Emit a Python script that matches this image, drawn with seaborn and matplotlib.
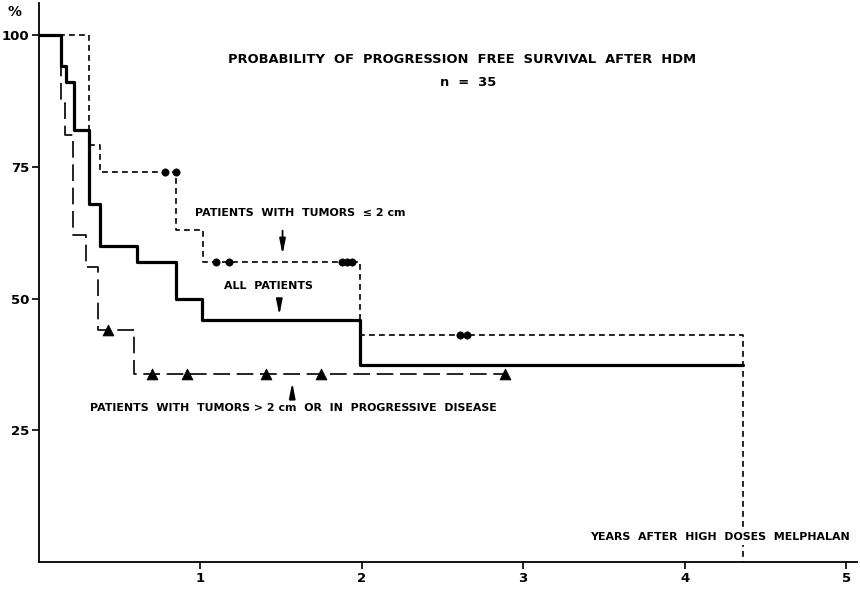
import numpy as np
import pandas as pd
import matplotlib
matplotlib.use("Agg")
import matplotlib.pyplot as plt
import seaborn as sns

# ---- data ----
all_t = [0, 0.14, 0.17, 0.22, 0.31, 0.38, 0.61, 0.85, 1.01, 1.99, 4.36]
all_s = [100, 94, 91, 82, 68, 60, 57, 50, 46, 37.4, 37.4]

small_t = [0, 0.31, 0.38, 0.85, 1.02, 1.99, 4.36]
small_s = [100, 79, 74, 63, 57, 43, 0]
small_cens_t = [0.78, 0.85, 1.10, 1.18, 1.88, 1.91, 1.94, 2.61, 2.65]
small_cens_s = [74, 74, 57, 57, 57, 57, 57, 43, 43]

large_t = [0, 0.14, 0.16, 0.21, 0.29, 0.37, 0.59, 2.89]
large_s = [100, 87, 81, 62, 56, 44, 35.7, 35.7]
large_cens_t = [0.43, 0.70, 0.92, 1.41, 1.75, 2.89]
large_cens_s = [44, 35.7, 35.7, 35.7, 35.7, 35.7]

x_ticks = [1, 2, 3, 4, 5]
y_ticks = [25, 50, 75, 100]

title = "PROBABILITY  OF  PROGRESSION  FREE  SURVIVAL  AFTER  HDM"
subtitle = "n  =  35"
lab_small = "PATIENTS  WITH  TUMORS  ≤ 2 cm"
lab_all = "ALL  PATIENTS"
lab_large = "PATIENTS  WITH  TUMORS > 2 cm  OR  IN  PROGRESSIVE  DISEASE"
x_label = "YEARS  AFTER  HIGH  DOSES  MELPHALAN"

# ---- figure ----
sns.set_style("ticks")
plt.rcParams['font.family'] = ['DejaVu Sans']
plt.rcParams['font.weight'] = 'bold'
plt.rcParams['text.color'] = 'black'
plt.rcParams['xtick.color'] = 'black'
plt.rcParams['ytick.color'] = 'black'

fig = plt.figure(figsize=(8.6, 5.97), dpi=100)
ax = fig.add_axes([0.045, 0.058, 0.952, 0.937])

df_all = pd.DataFrame({"t": all_t, "s": all_s})
df_small = pd.DataFrame({"t": small_t, "s": small_s})
df_large = pd.DataFrame({"t": large_t, "s": large_s})

sns.lineplot(data=df_all, x="t", y="s", ax=ax, color="black", lw=2.3,
             drawstyle="steps-post", estimator=None, sort=False)
sns.lineplot(data=df_small, x="t", y="s", ax=ax, color="black", lw=1.2,
             drawstyle="steps-post", estimator=None, sort=False,
             linestyle=(0, (3.5, 2.5)))
sns.lineplot(data=df_large, x="t", y="s", ax=ax, color="black", lw=1.2,
             drawstyle="steps-post", estimator=None, sort=False,
             linestyle=(0, (10, 4)))

sns.scatterplot(x=small_cens_t, y=small_cens_s, ax=ax, color="black",
                marker="o", s=28, edgecolor="black", zorder=5)
sns.scatterplot(x=large_cens_t, y=large_cens_s, ax=ax, color="black",
                marker="^", s=60, edgecolor="black", zorder=5)

ax.set_xlim(0, 5.07)
ax.set_ylim(0, 106)
ax.set_xticks(x_ticks)
ax.set_yticks(y_ticks)
ax.set_xticklabels([str(v) for v in x_ticks], fontsize=9.5, fontweight="bold")
ax.set_yticklabels([str(v) for v in y_ticks], fontsize=9.5, fontweight="bold")
ax.tick_params(axis="both", direction="out", length=5, width=1.2, pad=2,
               colors="black")
ax.set_xlabel("")
ax.set_ylabel("")
for side in ["top", "right"]:
    ax.spines[side].set_visible(False)
for side in ["left", "bottom"]:
    ax.spines[side].set_linewidth(1.3)
    ax.spines[side].set_color("black")

fs = 7.9
ax.text(2.62, 95.2, title, ha="center", va="center", fontsize=9.4, fontweight="bold")
ax.text(2.66, 91.0, subtitle, ha="center", va="center", fontsize=9.4, fontweight="bold")
ax.text(0.966, 66.2, lab_small, ha="left", va="center", fontsize=fs, fontweight="bold")
ax.text(1.15, 52.3, lab_all, ha="left", va="center", fontsize=fs, fontweight="bold")
ax.text(0.316, 29.2, lab_large, ha="left", va="center", fontsize=fs, fontweight="bold")
ax.text(5.02, 4.9, x_label, ha="right", va="center", fontsize=fs, fontweight="bold",
        zorder=10, bbox=dict(facecolor="white", edgecolor="none", pad=2.5))
fig.text(15 / 860, 1 - 12 / 597, "%", ha="center", va="center", fontsize=10, fontweight="bold")

arrow = dict(arrowstyle="-|>,head_length=0.9,head_width=0.18", color="black", lw=1.3)
ax.annotate("", xy=(1.51, 57.8), xytext=(1.51, 63.4), arrowprops=arrow)
ax.annotate("", xy=(1.49, 46.3), xytext=(1.49, 50.3), arrowprops=arrow)
ax.annotate("", xy=(1.57, 34.6), xytext=(1.57, 30.8), arrowprops=arrow)

fig.savefig("out.png", dpi=100)
